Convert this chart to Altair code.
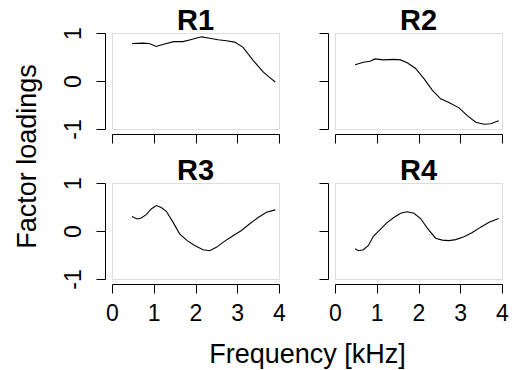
import altair as alt
import pandas as pd

FONT = "Liberation Sans"

X_TICKS = [0, 1, 2, 3, 4]
Y_TICKS = [-1, 0, 1]
PANEL_NAMES = ["R1", "R2", "R3", "R4"]

r1_x = [0.48, 0.74, 0.89, 1.06, 1.26, 1.48, 1.70, 1.88, 2.14, 2.34, 2.54, 2.74, 2.94, 3.14, 3.38, 3.62, 3.78, 3.91]
r1_y = [0.78, 0.79, 0.78, 0.72, 0.77, 0.82, 0.82, 0.86, 0.92, 0.89, 0.86, 0.84, 0.81, 0.70, 0.43, 0.19, 0.07, -0.02]

r2_x = [0.48, 0.68, 0.84, 0.96, 1.16, 1.41, 1.57, 1.73, 1.93, 2.13, 2.33, 2.53, 2.73, 2.97, 3.17, 3.37, 3.57, 3.73, 3.92]
r2_y = [0.34, 0.39, 0.41, 0.46, 0.44, 0.45, 0.44, 0.38, 0.26, 0.05, -0.19, -0.37, -0.45, -0.56, -0.72, -0.86, -0.90, -0.89, -0.83]

r3_x = [0.48, 0.60, 0.70, 0.82, 0.94, 1.06, 1.18, 1.30, 1.45, 1.62, 1.80, 1.98, 2.18, 2.34, 2.50, 2.70, 2.90, 3.10, 3.30, 3.50, 3.70, 3.91]
r3_y = [0.30, 0.25, 0.27, 0.34, 0.46, 0.53, 0.49, 0.41, 0.20, -0.06, -0.20, -0.30, -0.39, -0.41, -0.34, -0.21, -0.10, 0.01, 0.15, 0.28, 0.39, 0.44]

r4_x = [0.48, 0.56, 0.68, 0.80, 0.92, 1.08, 1.24, 1.41, 1.57, 1.73, 1.89, 2.05, 2.21, 2.41, 2.57, 2.73, 2.89, 3.09, 3.29, 3.49, 3.69, 3.92]
r4_y = [-0.37, -0.41, -0.39, -0.30, -0.11, 0.03, 0.17, 0.28, 0.37, 0.40, 0.37, 0.26, 0.06, -0.15, -0.19, -0.20, -0.18, -0.12, -0.03, 0.08, 0.18, 0.26]

SERIES = [(r1_x, r1_y), (r2_x, r2_y), (r3_x, r3_y), (r4_x, r4_y)]


def make_panel(name, xs, ys, left_col, bottom_row):
    df = pd.DataFrame({"freq": xs, "load": ys})

    xkw = dict(
        values=X_TICKS, offset=5, tickSize=9, tickWidth=1, domainWidth=1,
        domainColor="black", tickColor="black", grid=False,
        labels=bottom_row, labelFont=FONT, labelFontSize=23, labelColor="black",
        labelPadding=9, labelFlush=False, labelOverlap=False,
        labelExpr="'' + datum.value", title="",
    )
    if bottom_row and left_col:
        xkw.update(
            title="Frequency [kHz]", titleFont=FONT, titleFontSize=27,
            titleFontWeight="normal", titleColor="black",
            titleX=195, titleY=78, titleAlign="center", titleBaseline="alphabetic",
        )

    ykw = dict(
        values=Y_TICKS, offset=7, tickSize=9, tickWidth=1, domainWidth=1,
        domainColor="black", tickColor="black", grid=False,
        labels=left_col, labelFont=FONT, labelFontSize=23, labelColor="black",
        labelAngle=270, labelAlign="center", labelBaseline="bottom",
        labelPadding=11, labelFlush=False, labelOverlap=False,
        labelExpr="'' + datum.value", title="",
    )
    if left_col and not bottom_row:
        ykw.update(
            title="Factor loadings", titleFont=FONT, titleFontSize=27,
            titleFontWeight="normal", titleColor="black", titleAngle=270,
            titleX=-70, titleY=123, titleAlign="center", titleBaseline="alphabetic",
        )

    # left-column panels carry tick labels that widen their bounds upward
    title_offset = -32 if left_col else -26

    return (
        alt.Chart(df)
        .mark_line(color="black", strokeWidth=1.1)
        .encode(
            x=alt.X("freq:Q", scale=alt.Scale(domain=[0, 4], nice=False, zero=False), axis=alt.Axis(**xkw)),
            y=alt.Y("load:Q", scale=alt.Scale(domain=[-1, 1], nice=False, zero=False), axis=alt.Axis(**ykw)),
        )
        .properties(
            width=167, height=96,
            title=alt.TitleParams(
                name, font=FONT, fontSize=29, fontWeight="bold", color="black",
                anchor="middle", offset=title_offset, baseline="alphabetic",
            ),
        )
    )


panels = []
for i, (name, (xs, ys)) in enumerate(zip(PANEL_NAMES, SERIES)):
    panels.append(make_panel(name, xs, ys, left_col=(i % 2 == 0), bottom_row=(i >= 2)))

chart = (
    alt.concat(*panels, columns=2, spacing={"row": 54, "column": 56}, bounds="flush")
    .properties(padding={"left": 12, "top": 6, "right": 5, "bottom": 5})
    .configure_view(strokeWidth=0)
    .configure(background="white")
)

chart.save("out.html", embed_options={"renderer": "svg", "actions": False})
